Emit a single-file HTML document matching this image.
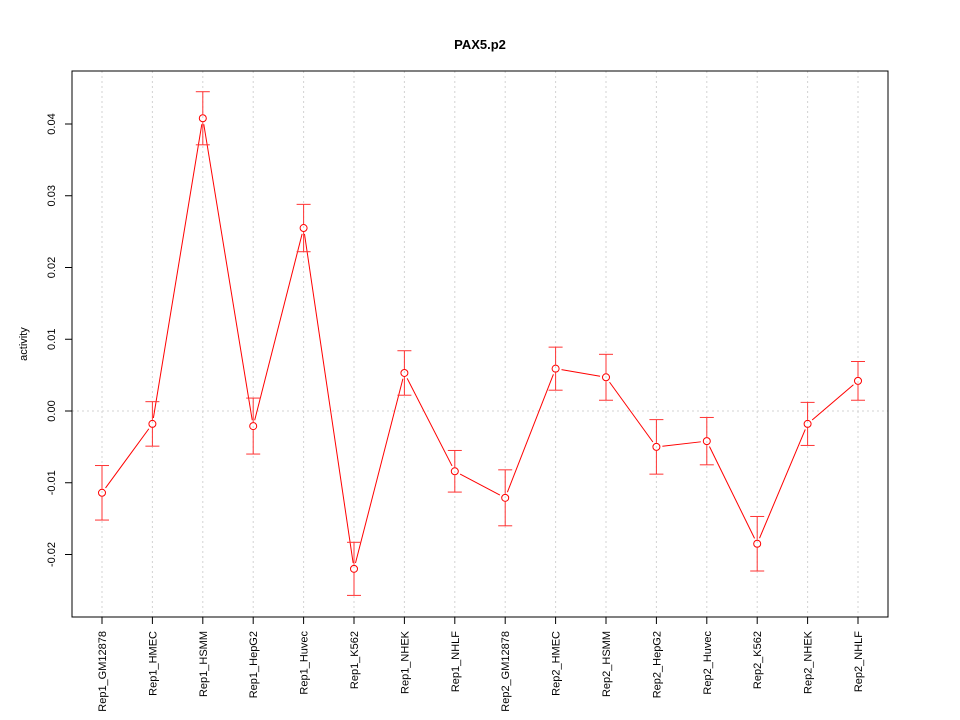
<!DOCTYPE html>
<html><head><meta charset="utf-8"><style>body{margin:0;background:#fff}svg{display:block;font-family:"Liberation Sans",sans-serif}</style></head>
<body>
<svg id="c" width="960" height="720"></svg>
<script>
const categories=["Rep1_GM12878","Rep1_HMEC","Rep1_HSMM","Rep1_HepG2","Rep1_Huvec","Rep1_K562","Rep1_NHEK","Rep1_NHLF","Rep2_GM12878","Rep2_HMEC","Rep2_HSMM","Rep2_HepG2","Rep2_Huvec","Rep2_K562","Rep2_NHEK","Rep2_NHLF"];
const values=[-0.0114,-0.0018,0.0408,-0.0021,0.0255,-0.0220,0.0053,-0.0084,-0.0121,0.0059,0.0047,-0.0050,-0.0042,-0.0185,-0.0018,0.0042];
const errors=[0.0038,0.0031,0.0037,0.0039,0.0033,0.0037,0.0031,0.0029,0.0039,0.0030,0.0032,0.0038,0.0033,0.0038,0.0030,0.0027];
const yTicks=[-0.02,-0.01,0,0.01,0.02,0.03,0.04];
const yTickLabels=["-0.02","-0.01","0.00","0.01","0.02","0.03","0.04"];
const svg=document.getElementById('c');const NS='http://www.w3.org/2000/svg';
function mk(t,a,p){const e=document.createElementNS(NS,t);for(const k in a)e.setAttribute(k,a[k]);(p||svg).appendChild(e);return e;}
const X=i=>102+i*(858-102)/(categories.length-1);
const Y=v=>411-v*7175;
const grid=mk('g',{});
categories.forEach((c,i)=>{mk('line',{x1:X(i),x2:X(i),y1:71,y2:617,stroke:'#d3d3d3','stroke-dasharray':'2,3'},grid);});
mk('line',{x1:72,x2:888,y1:Y(0),y2:Y(0),stroke:'#d3d3d3','stroke-dasharray':'2,3'},grid);
const frame=mk('rect',{x:72,y:71,width:816,height:546,fill:'none',stroke:'#000'});

const t=mk('text',{x:480,y:49,'text-anchor':'middle','font-size':13,'font-weight':'bold'});t.textContent='PAX5.p2';

const yl=mk('text',{transform:'translate(27,344) rotate(-90)','text-anchor':'middle','font-size':11});yl.textContent='activity';

yTicks.forEach((v,i)=>{mk('line',{x1:65,x2:72,y1:Y(v),y2:Y(v),stroke:'#000'});
const l=mk('text',{transform:`translate(55,${Y(v)}) rotate(-90)`,'text-anchor':'middle','font-size':11});l.textContent=yTickLabels[i];
});
categories.forEach((c,i)=>{mk('line',{x1:X(i),x2:X(i),y1:617,y2:624,stroke:'#000'});
const l=mk('text',{transform:`translate(${X(i)+4},631) rotate(-90)`,'text-anchor':'end','font-size':11});l.textContent=c;
});
for(let i=0;i<values.length-1;i++){const x1=X(i),y1=Y(values[i]),x2=X(i+1),y2=Y(values[i+1]);const d=Math.hypot(x2-x1,y2-y1),r=6;
if(d>2*r){const ux=(x2-x1)/d,uy=(y2-y1)/d;const s=mk('line',{x1:x1+ux*r,y1:y1+uy*r,x2:x2-ux*r,y2:y2-uy*r,stroke:'#ff0000'});
}}
values.forEach((v,i)=>{const g=mk('g',{});
const x=X(i),t=Y(v+errors[i]),b=Y(v-errors[i]),col='#ff3333';
mk('line',{x1:x,x2:x,y1:t,y2:Y(v)-4,stroke:col},g);mk('line',{x1:x,x2:x,y1:Y(v)+4,y2:b,stroke:col},g);
mk('line',{x1:x-7,x2:x+7,y1:t,y2:t,stroke:col},g);mk('line',{x1:x-7,x2:x+7,y1:b,y2:b,stroke:col},g);
const p=mk('circle',{cx:x,cy:Y(v),r:3.5,fill:'none',stroke:'#ff0000'});});
</script>
</body></html>
